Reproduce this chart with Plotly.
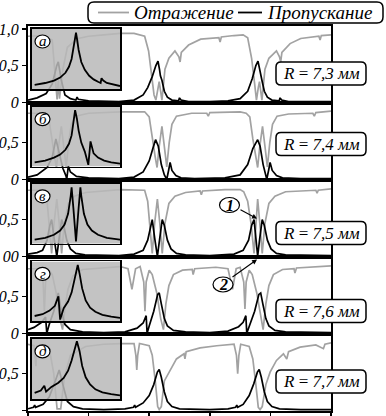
import plotly.graph_objects as go

# ---------------- data (x in arbitrary units 0..10) ----------------
radii = ["7,3", "7,4", "7,5", "7,6", "7,7"]
inset_letters = ["а", "б", "в", "г", "д"]

t1_x = [0.0,0.3,0.6,0.8,0.95,1.0,1.1,1.22,1.4,1.58,1.62,1.66,2.0,2.5,3.0,3.5,3.8,3.95,4.1,4.22,4.29,4.34,4.37,4.42,4.5,4.6,4.75,4.97,5.0,5.05,5.3,6.0,6.6,7.0,7.25,7.4,7.52,7.59,7.64,7.67,7.72,7.8,7.9,8.05,8.29,8.32,8.37,8.6,10.0]
t1 = [0.03,0.06,0.12,0.25,0.5,0.55,0.3,0.1,0.05,0.03,0.07,0.04,0.02,0.01,0.01,0.03,0.1,0.2,0.35,0.5,0.56,0.45,0.36,0.3,0.15,0.07,0.03,0.02,0.06,0.03,0.01,0.01,0.02,0.05,0.15,0.32,0.5,0.56,0.45,0.36,0.3,0.15,0.07,0.03,0.02,0.06,0.03,0.01,0.01]
r1_x = [0.0,0.5,0.8,0.9,0.96,1.0,1.04,1.15,1.3,1.58,1.62,1.66,2.0,2.5,3.04,3.5,3.85,3.98,4.08,4.16,4.22,4.29,4.33,4.42,4.52,4.65,4.85,4.98,5.02,5.06,5.3,5.7,6.3,6.34,6.38,6.8,7.1,7.25,7.38,7.48,7.54,7.6,7.64,7.72,7.82,7.95,8.2,8.3,8.34,8.38,8.65,9.0,9.6,9.64,9.68,10.0]
r1 = [0.9,0.91,0.85,0.3,0.04,0.3,0.05,0.45,0.75,0.85,0.8,0.87,0.9,0.92,0.94,0.94,0.9,0.7,0.35,0.1,0.03,0.2,0.28,0.03,0.45,0.6,0.7,0.62,0.55,0.68,0.78,0.86,0.88,0.82,0.89,0.91,0.92,0.88,0.6,0.25,0.03,0.2,0.28,0.03,0.45,0.6,0.7,0.62,0.55,0.68,0.8,0.87,0.9,0.85,0.91,0.92]

t2_x = [0.0,0.3,0.63,0.8,0.92,1.0,1.15,1.25,1.28,1.33,1.4,1.6,2.0,3.0,3.5,3.8,4.0,4.12,4.21,4.3,4.4,4.5,4.58,4.64,4.69,4.75,4.88,5.05,5.5,6.5,7.0,7.25,7.42,7.58,7.66,7.76,7.84,7.88,7.94,7.99,8.06,8.2,8.4,9.0,10.0]
t2 = [0.03,0.06,0.16,0.3,0.55,0.4,0.15,0.05,0.0,0.18,0.1,0.04,0.02,0.01,0.03,0.1,0.25,0.42,0.54,0.45,0.2,0.06,0.0,0.12,0.23,0.12,0.05,0.02,0.01,0.02,0.06,0.2,0.42,0.54,0.45,0.2,0.06,0.0,0.12,0.23,0.12,0.05,0.02,0.01,0.01]
r2_x = [0.0,0.5,0.68,0.78,0.88,0.94,1.01,1.1,1.18,1.26,1.34,1.43,1.58,2.0,3.04,3.85,4.0,4.1,4.2,4.26,4.33,4.42,4.5,4.58,4.66,4.75,4.9,5.4,5.9,5.95,6.0,7.0,7.2,7.32,7.42,7.52,7.58,7.65,7.74,7.82,7.9,7.98,8.07,8.22,8.6,9.4,9.45,9.5,10.0]
r2 = [0.9,0.9,0.85,0.55,0.3,0.16,0.45,0.72,0.45,0.17,0.5,0.75,0.86,0.9,0.92,0.92,0.85,0.55,0.3,0.16,0.45,0.72,0.45,0.17,0.5,0.75,0.86,0.9,0.9,0.86,0.91,0.92,0.9,0.85,0.55,0.3,0.16,0.45,0.72,0.45,0.17,0.5,0.75,0.86,0.89,0.9,0.86,0.91,0.93]

t3_x = [0.0,0.3,0.48,0.63,0.72,0.78,0.86,0.95,1.03,1.11,1.18,1.28,1.4,1.58,1.88,3.0,3.5,3.8,3.95,4.04,4.1,4.18,4.27,4.35,4.43,4.5,4.6,4.72,4.9,5.2,6.0,6.8,7.1,7.28,7.38,7.46,7.51,7.58,7.65,7.73,7.8,7.9,8.02,8.2,8.5,10.0]
t3 = [0.03,0.05,0.08,0.22,0.42,0.5,0.25,0.0,0.25,0.5,0.42,0.22,0.1,0.04,0.02,0.01,0.03,0.08,0.22,0.42,0.5,0.25,0.0,0.25,0.5,0.42,0.22,0.1,0.04,0.02,0.01,0.03,0.08,0.22,0.42,0.5,0.25,0.0,0.25,0.5,0.42,0.22,0.1,0.04,0.02,0.01]
r3_x = [0.0,0.5,0.63,0.7,0.78,0.86,0.95,1.03,1.11,1.2,1.33,1.53,1.9,3.04,3.85,3.95,4.02,4.1,4.18,4.27,4.35,4.43,4.52,4.65,4.85,5.2,5.68,5.72,5.76,6.5,7.0,7.12,7.25,7.36,7.46,7.52,7.58,7.65,7.73,7.82,7.95,8.15,8.5,9.5,9.54,9.58,10.0]
r3 = [0.9,0.9,0.75,0.45,0.04,0.45,0.78,0.45,0.04,0.45,0.72,0.82,0.87,0.91,0.9,0.75,0.45,0.04,0.45,0.78,0.45,0.04,0.45,0.72,0.82,0.87,0.89,0.84,0.89,0.91,0.91,0.88,0.75,0.45,0.04,0.45,0.78,0.45,0.04,0.45,0.72,0.82,0.88,0.9,0.86,0.9,0.92]

t4_x = [0.0,0.2,0.45,0.58,0.62,0.7,0.85,1.0,1.1,1.22,1.4,1.8,2.5,3.2,3.6,3.8,3.9,3.93,4.0,4.15,4.28,4.33,4.4,4.5,4.6,4.8,5.2,6.0,6.6,6.95,7.1,7.19,7.22,7.3,7.48,7.62,7.68,7.75,7.85,7.95,8.15,8.5,10.0]
t4 = [0.05,0.08,0.15,0.22,0.0,0.12,0.3,0.55,0.3,0.12,0.05,0.02,0.01,0.02,0.07,0.14,0.24,0.0,0.1,0.3,0.53,0.55,0.4,0.2,0.1,0.04,0.02,0.01,0.03,0.09,0.15,0.24,0.0,0.1,0.3,0.53,0.55,0.4,0.2,0.1,0.04,0.02,0.01]
r4_x = [0.0,0.3,0.5,0.54,0.58,0.7,0.8,0.93,1.05,1.14,1.22,1.32,1.48,1.8,3.04,3.3,3.43,3.55,3.7,3.82,3.86,3.9,4.0,4.1,4.25,4.38,4.47,4.55,4.65,4.8,5.1,5.42,5.45,5.5,6.2,6.6,6.75,6.87,7.0,7.12,7.16,7.2,7.3,7.4,7.55,7.68,7.76,7.85,7.95,8.1,8.4,8.78,8.81,8.86,9.5,10.0]
r4 = [0.88,0.88,0.7,0.3,0.7,0.86,0.8,0.55,0.2,0.05,0.35,0.6,0.78,0.87,0.91,0.88,0.6,0.88,0.91,0.7,0.3,0.7,0.86,0.8,0.55,0.2,0.05,0.4,0.65,0.8,0.86,0.87,0.8,0.88,0.9,0.88,0.6,0.88,0.9,0.7,0.33,0.7,0.86,0.8,0.55,0.2,0.05,0.4,0.65,0.8,0.87,0.88,0.82,0.89,0.91,0.92]

t5_x = [0.0,0.18,0.22,0.25,0.5,0.7,0.9,1.03,1.15,1.3,1.5,1.8,2.5,3.2,3.48,3.52,3.55,3.8,4.0,4.15,4.27,4.33,4.4,4.5,4.6,4.75,5.0,6.0,6.6,6.85,6.89,6.92,7.1,7.3,7.45,7.57,7.63,7.7,7.8,7.9,8.05,8.3,9.0,10.0]
t5 = [0.02,0.04,0.07,0.04,0.08,0.18,0.4,0.55,0.35,0.12,0.05,0.02,0.01,0.02,0.04,0.07,0.04,0.1,0.2,0.35,0.52,0.555,0.45,0.25,0.12,0.05,0.02,0.01,0.02,0.04,0.07,0.04,0.08,0.2,0.36,0.52,0.555,0.45,0.25,0.12,0.05,0.02,0.01,0.01]
r5_x = [0.0,0.2,0.26,0.3,0.7,0.85,0.96,1.08,1.2,1.4,1.9,2.5,3.04,3.5,3.56,3.59,3.62,3.68,4.0,4.1,4.2,4.28,4.33,4.4,4.5,4.69,4.9,5.15,5.18,5.22,5.68,6.23,6.8,6.88,6.92,6.96,7.02,7.3,7.42,7.52,7.6,7.66,7.73,7.85,7.99,8.2,8.43,8.54,8.6,8.98,9.5,9.75,9.8,10.0]
r5 = [0.9,0.88,0.6,0.88,0.85,0.5,0.02,0.02,0.45,0.75,0.87,0.9,0.91,0.91,0.75,0.55,0.75,0.91,0.88,0.75,0.4,0.05,0.01,0.05,0.4,0.55,0.7,0.77,0.7,0.8,0.85,0.88,0.9,0.75,0.5,0.75,0.9,0.87,0.7,0.35,0.04,0.01,0.05,0.35,0.52,0.68,0.77,0.7,0.8,0.86,0.89,0.84,0.9,0.92]

# insets (normalised coordinates of the zoomed transmission peak)
i1_x = [0.03,0.15,0.25,0.32,0.38,0.42,0.45,0.47,0.49,0.5,0.51,0.53,0.56,0.6,0.65,0.7,0.75,0.78,0.79,0.81,0.85,0.9,1.0]
i1 = [0.07,0.1,0.14,0.19,0.27,0.37,0.5,0.65,0.85,0.94,0.85,0.65,0.45,0.32,0.22,0.16,0.12,0.1,0.18,0.14,0.1,0.08,0.05]
i2_x = [0.03,0.15,0.25,0.32,0.38,0.42,0.45,0.47,0.49,0.51,0.53,0.56,0.6,0.64,0.665,0.7,0.75,0.82,0.9,1.0]
i2 = [0.07,0.1,0.15,0.2,0.28,0.38,0.52,0.7,0.94,0.8,0.6,0.4,0.25,0.03,0.42,0.22,0.15,0.1,0.07,0.05]
i3_x = [0.03,0.15,0.25,0.32,0.37,0.41,0.44,0.45,0.47,0.5,0.53,0.55,0.56,0.59,0.63,0.68,0.75,0.85,1.0]
i3 = [0.07,0.1,0.15,0.22,0.32,0.5,0.8,0.94,0.6,0.04,0.6,0.94,0.8,0.5,0.32,0.22,0.15,0.1,0.07]
i4_x = [0.03,0.12,0.2,0.26,0.3,0.32,0.36,0.41,0.45,0.48,0.5,0.52,0.54,0.57,0.61,0.66,0.72,0.8,0.9,1.0]
i4 = [0.09,0.12,0.18,0.26,0.42,0.03,0.22,0.33,0.48,0.68,0.84,0.94,0.8,0.55,0.35,0.23,0.16,0.11,0.08,0.06]
i5_x = [0.03,0.1,0.14,0.16,0.22,0.3,0.36,0.41,0.45,0.48,0.51,0.54,0.57,0.61,0.66,0.72,0.8,0.9,1.0]
i5 = [0.1,0.14,0.22,0.12,0.2,0.27,0.35,0.47,0.64,0.82,0.96,0.8,0.55,0.36,0.24,0.16,0.11,0.08,0.06]

x_ticks = [0, 2, 4, 6, 8, 10]

panels_T = [(t1_x, t1), (t2_x, t2), (t3_x, t3), (t4_x, t4), (t5_x, t5)]
panels_R = [(r1_x, r1), (r2_x, r2), (r3_x, r3), (r4_x, r4), (r5_x, r5)]
insets = [(i1_x, i1), (i2_x, i2), (i3_x, i3), (i4_x, i4), (i5_x, i5)]

# ---------------- geometry ----------------
W, H = 386, 416
ML, MR, MT, MB = 28, 55, 26, 5
PW = W - ML - MR
PH = H - MT - MB
PANEL_H = PH / 5.0

def px(v):
    return (v - ML) / PW

def py(v):
    return (H - MB - v) / PH

FONT = "Liberation Serif"
GRAY = "#a2a2a2"

fig = go.Figure()
layout = dict(
    width=W, height=H,
    margin=dict(l=ML, r=MR, t=MT, b=MB, pad=0, autoexpand=False),
    paper_bgcolor="white", plot_bgcolor="rgba(0,0,0,0)",
    showlegend=False,
    font=dict(family=FONT, size=17, color="black"),
)

shapes = []
annotations = []

def rrect(x0, y0, x1, y1, r, fill="white", width=1.5):
    def P(a, b):
        return f"{px(a):.5f},{py(b):.5f}"
    path = (f"M {P(x0+r,y0)} L {P(x1-r,y0)} Q {P(x1,y0)} {P(x1,y0+r)} "
            f"L {P(x1,y1-r)} Q {P(x1,y1)} {P(x1-r,y1)} L {P(x0+r,y1)} "
            f"Q {P(x0,y1)} {P(x0,y1-r)} L {P(x0,y0+r)} Q {P(x0,y0)} {P(x0+r,y0)} Z")
    return dict(type="path", xref="paper", yref="paper", path=path,
                line=dict(color="black", width=width), fillcolor=fill, layer="above")

def ellipse(cx, cy, rx, ry, width=1.2):
    return dict(type="circle", xref="paper", yref="paper",
                x0=px(cx - rx), x1=px(cx + rx), y0=py(cy + ry), y1=py(cy - ry),
                line=dict(color="black", width=width), fillcolor="white", layer="above")

box_centers = [73.5, 144, 233, 311, 381.5]
inset_tops_off = [3.0, 3.6, 3.8, 4.4, 4.9]

for i in range(5):
    n = i + 1
    ni = i + 6
    top = MT + PANEL_H * i
    dom = [1 - (i + 1) / 5.0, 1 - i / 5.0]
    xs, ys = panels_R[i]
    fig.add_trace(go.Scatter(x=xs, y=ys, mode="lines", line=dict(color=GRAY, width=1.7),
                             xaxis=f"x{n}", yaxis=f"y{n}", hoverinfo="skip"))
    xs, ys = panels_T[i]
    fig.add_trace(go.Scatter(x=xs, y=ys, mode="lines", line=dict(color="black", width=1.7),
                             xaxis=f"x{n}", yaxis=f"y{n}", hoverinfo="skip"))

    xa = dict(domain=[0, 1], range=[0, 10], anchor=f"y{n}", showline=True, mirror=True,
              linecolor="black", linewidth=2, showgrid=False, zeroline=False,
              showticklabels=False, ticks="", fixedrange=True, automargin=False)
    if i == 4:
        xa.update(ticks="outside", tickvals=x_ticks, ticklen=5, tickwidth=1.5, tickcolor="black")
    tv = [0, 0.5, 1.0] if i == 0 else [0, 0.5]
    tt = ["0", "0,5", "1,0"] if i == 0 else ["0", "0,5"]
    if i == 2:
        tt = ["00", "0,5"]
    ya = dict(domain=dom, range=[-0.01, 1.04], anchor=f"x{n}", showline=True, mirror=True,
              linecolor="black", linewidth=2, showgrid=False, zeroline=False,
              ticks="outside", ticklen=4, tickwidth=1.5, tickcolor="black",
              tickvals=tv, ticktext=tt,
              tickfont=dict(family=FONT, size=16, color="black", style="italic"),
              fixedrange=True, automargin=False)
    layout[f"xaxis{n}" if n > 1 else "xaxis"] = xa
    layout[f"yaxis{n}" if n > 1 else "yaxis"] = ya

    # inset
    itop = top + inset_tops_off[i]
    ibot = itop + 60
    ix0, ix1 = 32, 120
    fig.add_trace(go.Scatter(x=[0, 1, 1, 0, 0], y=[0, 0, 1, 1, 0], mode="lines", fill="toself",
                             fillcolor="rgba(185,185,185,0.86)", line=dict(width=0),
                             xaxis=f"x{ni}", yaxis=f"y{ni}", hoverinfo="skip"))
    xs, ys = insets[i]
    fig.add_trace(go.Scatter(x=xs, y=ys, mode="lines", line=dict(color="black", width=1.8),
                             xaxis=f"x{ni}", yaxis=f"y{ni}", hoverinfo="skip"))
    layout[f"xaxis{ni}"] = dict(domain=[px(ix0), px(ix1)], range=[0, 1], anchor=f"y{ni}",
                                showline=True, mirror=True, linecolor="black", linewidth=1.6,
                                showgrid=False, zeroline=False, showticklabels=False, ticks="",
                                fixedrange=True)
    layout[f"yaxis{ni}"] = dict(domain=[py(ibot), py(itop)], range=[0, 1], anchor=f"x{ni}",
                                showline=True, mirror=True, linecolor="black", linewidth=1.6,
                                showgrid=False, zeroline=False, showticklabels=False, ticks="",
                                fixedrange=True)
    # inset letter circle
    cx, cy = ix0 + 10.5, itop + 12.5
    shapes.append(ellipse(cx, cy, 7.5, 6.5))
    annotations.append(dict(x=px(cx), y=py(cy), xref="paper", yref="paper",
                            text=f"<i>{inset_letters[i]}</i>", showarrow=False,
                            font=dict(family=FONT, size=15, color="black"),
                            xanchor="center", yanchor="middle"))
    # R label box
    bc = box_centers[i]
    shapes.append(rrect(276, bc - 11.5, 366, bc + 11.5, 5))
    annotations.append(dict(x=px(321), y=py(bc), xref="paper", yref="paper",
                            text=f"<i>R</i> = <i>{radii[i]} мм</i>", showarrow=False,
                            font=dict(family=FONT, size=17, color="black"),
                            xanchor="center", yanchor="middle"))

# legend (drawn manually with rounded frame)
shapes.append(rrect(88, 2, 383, 23, 6))
shapes.append(dict(type="line", xref="paper", yref="paper", x0=px(98), x1=px(129),
                   y0=py(12.5), y1=py(12.5), line=dict(color=GRAY, width=1.8), layer="above"))
shapes.append(dict(type="line", xref="paper", yref="paper", x0=px(238), x1=px(262),
                   y0=py(12.5), y1=py(12.5), line=dict(color="black", width=1.8), layer="above"))
annotations.append(dict(x=px(132), y=py(12.5), xref="paper", yref="paper",
                        text="<i>Отражение</i>", showarrow=False, xanchor="left", yanchor="middle",
                        font=dict(family=FONT, size=19, color="black")))
annotations.append(dict(x=px(265), y=py(12.5), xref="paper", yref="paper",
                        text="<i>Пропускание</i>", showarrow=False, xanchor="left", yanchor="middle",
                        font=dict(family=FONT, size=19, color="black")))

# markers 1 and 2 with arrows
for (cx, cy, lab, hx, hy, tx, ty) in [(229.5, 205, "1", 257, 218.5, 239, 209),
                                       (223, 284.5, "2", 257, 259.5, 231, 278)]:
    annotations.append(dict(x=px(hx), y=py(hy), xref="paper", yref="paper",
                            ax=tx - hx, ay=ty - hy, axref="pixel", ayref="pixel",
                            text="", showarrow=True, arrowhead=2, arrowsize=0.9,
                            arrowwidth=1.1, arrowcolor="black"))
    shapes.append(ellipse(cx, cy, 10, 7.5))
    annotations.append(dict(x=px(cx), y=py(cy), xref="paper", yref="paper",
                            text=f"<i><b>{lab}</b></i>", showarrow=False,
                            font=dict(family=FONT, size=16, color="black"),
                            xanchor="center", yanchor="middle"))

layout["shapes"] = shapes
layout["annotations"] = annotations
fig.update_layout(**layout)
fig.write_html(
    "out.html",
    config={"displayModeBar": False, "staticPlot": True},
    post_script="document.body.style.margin='0';document.body.style.padding='0';",
)
